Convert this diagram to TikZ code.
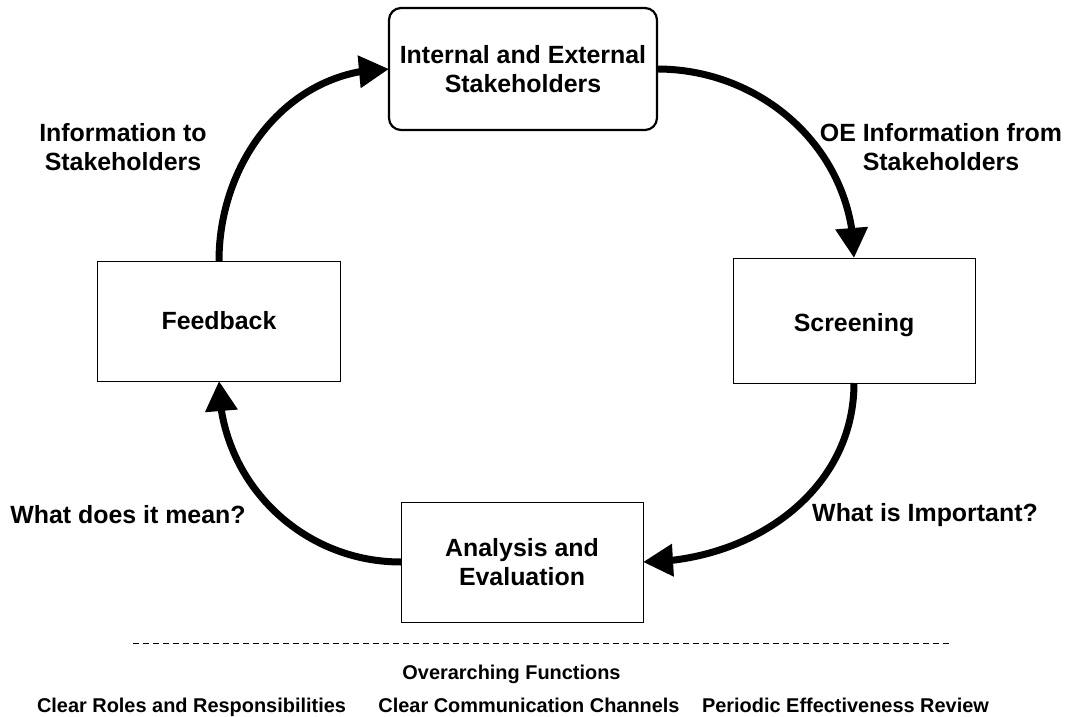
\documentclass[tikz,border=0pt]{standalone}
\usepackage{fontspec}
\setmainfont{Liberation Sans}
\usetikzlibrary{arrows.meta}
\usetikzlibrary{bending}
\usetikzlibrary{positioning}
\tikzset{
    stage/.style = {draw,line width=1bp,inner sep=0,outer sep=0,
        minimum width=242bp,minimum height=120bp,align=center,
        font=\fontsize{25}{29}\selectfont\bfseries},
    source/.style = {stage,rounded corners=12bp,line width=2.2bp,
        minimum width=268bp,minimum height=122bp},
    flow/.style = {line width=7bp,-{Triangle[length=30bp,width=31bp]}},
    cue/.style = {align=center,font=\fontsize{25}{29}\selectfont\bfseries},
    func/.style = {anchor=base,font=\fontsize{20}{24}\selectfont\bfseries},
    divider/.style = {dash pattern=on 6bp off 4bp,line width=0.8bp}
}

\begin{document}
\begin{tikzpicture}[x=1bp,y=-1bp]
        \useasboundingbox (0,0) rectangle (1070,717);
        % Stages
        \path (523,69) node[source] (stake) {Internal and External\\Stakeholders}
            (854,320.5) node[stage,minimum height=125bp,
                text height=22bp,text depth=0pt] (screen) {Screening}
            (522,562) node[stage] (anal) {Analysis and\\Evaluation}
            (219,321) node[stage] (feed) {Feedback}
        ;
        % Cues
        \path (123,147) node[cue] (cueinfo) {Information to\\Stakeholders}
            (941,147) node[cue] (cueoe) {OE Information from\\Stakeholders}
            (925,515) node[cue] (cueimp) {What is Important?}
            (128,515) node[cue] (cuemean) {What does it mean?}
        ;
        % Flows
        \draw[flow] (stake.east) to[out=0,in=90] (screen.north);
        \draw[flow] (screen.south) to[out=-90,in=0] (anal.east);
        \draw[flow] (anal.west) to[out=180,in=-90] (feed.south);
        \draw[flow] (feed.north) to[out=90,in=180] (stake.west);
        % Overarching functions
        \path (133,643) coordinate (sepl)
            to +(818,0) coordinate (sepr)
        ;
        \draw[divider] (sepl) to (sepr);
        \path (511.5,679) node[func] (overarch) {Overarching Functions}
            (191.5,712.5) node[func] (roles) {Clear Roles and Responsibilities}
            (529,712.5) node[func] (channels) {Clear Communication Channels}
            (845.5,712.5) node[func] (review) {Periodic Effectiveness Review}
        ;
    \end{tikzpicture}
\end{document}
